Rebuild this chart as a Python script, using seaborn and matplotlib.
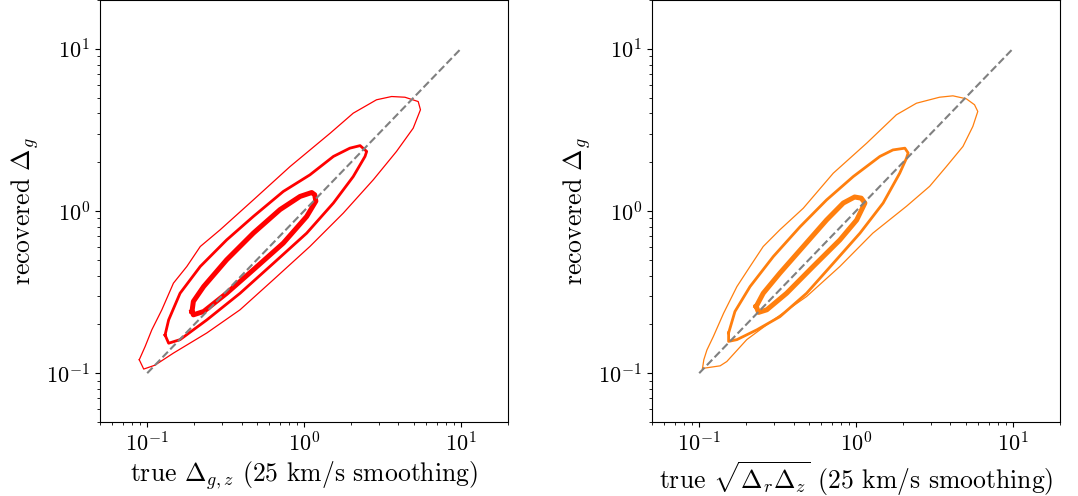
import numpy as np
import pandas as pd
import matplotlib
matplotlib.use("Agg")
import matplotlib.pyplot as plt
import seaborn as sns

# contour outlines (data units), left panel: true Delta_g,z
left_outer_x = [0.089, 0.095, 0.112, 0.147, 0.240, 0.391, 0.638, 1.09, 1.78, 2.77, 3.89, 4.97, 5.53,
                5.35, 4.40, 3.62, 2.90, 2.06, 1.47, 0.815, 0.475, 0.292, 0.218, 0.179, 0.147, 0.124, 0.107, 0.097]
left_outer_y = [0.121, 0.106, 0.112, 0.133, 0.177, 0.246, 0.377, 0.604, 0.97, 1.56, 2.33, 3.24, 4.21,
                4.73, 5.03, 5.08, 4.85, 4.01, 3.02, 1.88, 1.17, 0.766, 0.604, 0.455, 0.359, 0.246, 0.185, 0.146]

left_mid_x = [0.130, 0.137, 0.162, 0.240, 0.391, 0.638, 1.04, 1.54, 2.06, 2.45, 2.51,
              2.28, 1.96, 1.54, 1.09, 0.738, 0.475, 0.321, 0.218, 0.162, 0.137]
left_mid_y = [0.172, 0.153, 0.161, 0.213, 0.311, 0.476, 0.73, 1.12, 1.63, 2.17, 2.33,
              2.53, 2.44, 2.17, 1.67, 1.32, 0.925, 0.663, 0.455, 0.311, 0.213]

left_inner_x = [0.193, 0.197, 0.229, 0.321, 0.475, 0.738, 1.04, 1.19, 1.17, 1.12,
                0.944, 0.703, 0.475, 0.321, 0.229, 0.197]
left_inner_y = [0.240, 0.229, 0.240, 0.311, 0.434, 0.634, 0.925, 1.15, 1.26, 1.30,
                1.23, 1.02, 0.73, 0.50, 0.342, 0.277]

# right panel: true sqrt(Delta_r Delta_z)
right_outer_x = [0.105, 0.107, 0.112, 0.123, 0.143, 0.174, 0.211, 0.256, 0.327, 0.461, 0.716, 1.17, 1.81,
                 2.43, 3.41, 4.15, 5.05, 5.70, 5.98, 5.56, 4.81, 3.77, 2.95, 2.10, 1.28, 0.789, 0.484,
                 0.297, 0.201, 0.150, 0.136]
right_outer_y = [0.107, 0.121, 0.139, 0.168, 0.234, 0.342, 0.455, 0.604, 0.766, 1.04, 1.71, 2.62, 3.92,
                 4.62, 5.03, 5.13, 4.92, 4.52, 4.11, 3.32, 2.50, 1.88, 1.42, 1.07, 0.73, 0.455, 0.297,
                 0.213, 0.161, 0.118, 0.111]

right_mid_x = [0.154, 0.154, 0.174, 0.233, 0.327, 0.484, 0.716, 1.06, 1.49, 1.90, 2.10, 2.15,
               2.05, 1.72, 1.42, 0.96, 0.649, 0.44, 0.297, 0.211, 0.169]
right_mid_y = [0.177, 0.157, 0.161, 0.185, 0.223, 0.311, 0.476, 0.73, 1.12, 1.71, 2.12, 2.28,
               2.44, 2.38, 2.17, 1.63, 1.17, 0.80, 0.524, 0.342, 0.240]

right_inner_x = [0.231, 0.239, 0.270, 0.361, 0.533, 0.789, 1.01, 1.14, 1.08, 0.98,
                 0.83, 0.649, 0.461, 0.327, 0.256]
right_inner_y = [0.258, 0.237, 0.246, 0.311, 0.455, 0.663, 0.88, 1.12, 1.20, 1.22,
                 1.12, 0.88, 0.604, 0.414, 0.311]

one_to_one = [0.1, 10]

plt.rcParams['font.family'] = 'serif'
plt.rcParams['font.serif'] = ['cmr10']
plt.rcParams['mathtext.fontset'] = 'cm'
plt.rcParams['axes.formatter.use_mathtext'] = True
plt.rcParams['axes.unicode_minus'] = False

fig = plt.figure(figsize=(10.78, 4.96), dpi=100)
ax1 = fig.add_axes([100 / 1078, 74 / 496, 408 / 1078, 422 / 496])
ax2 = fig.add_axes([652 / 1078, 74 / 496, 408 / 1078, 422 / 496])

panels = [
    (ax1, 'red', [(left_outer_x, left_outer_y, 0.9), (left_mid_x, left_mid_y, 2.0), (left_inner_x, left_inner_y, 3.6)],
     r'true $\Delta_{g,z}$ (25 km/s smoothing)'),
    (ax2, '#ff7f0e', [(right_outer_x, right_outer_y, 0.9), (right_mid_x, right_mid_y, 2.0), (right_inner_x, right_inner_y, 3.6)],
     r'true $\sqrt{\Delta_r\Delta_z}$ (25 km/s smoothing)'),
]

for ax, color, contours, xlabel in panels:
    ax.set_xscale('log')
    ax.set_yscale('log')
    for cx, cy, lw in contours:
        df = pd.DataFrame({'x': cx + cx[:1], 'y': cy + cy[:1]})
        sns.lineplot(data=df, x='x', y='y', sort=False, estimator=None, color=color, lw=lw, ax=ax)
    sns.lineplot(x=one_to_one, y=one_to_one, color='grey', ls='--', lw=1.5, ax=ax)
    ax.set_xlim(0.05, 20)
    ax.set_ylim(0.05, 20)
    ax.set_xlabel(xlabel, fontsize=18.5, labelpad=2.5)
    ax.set_ylabel(r'recovered $\Delta_g$', fontsize=18.5)
    ax.tick_params(labelsize=16)

plt.savefig('out.png', dpi=100)
